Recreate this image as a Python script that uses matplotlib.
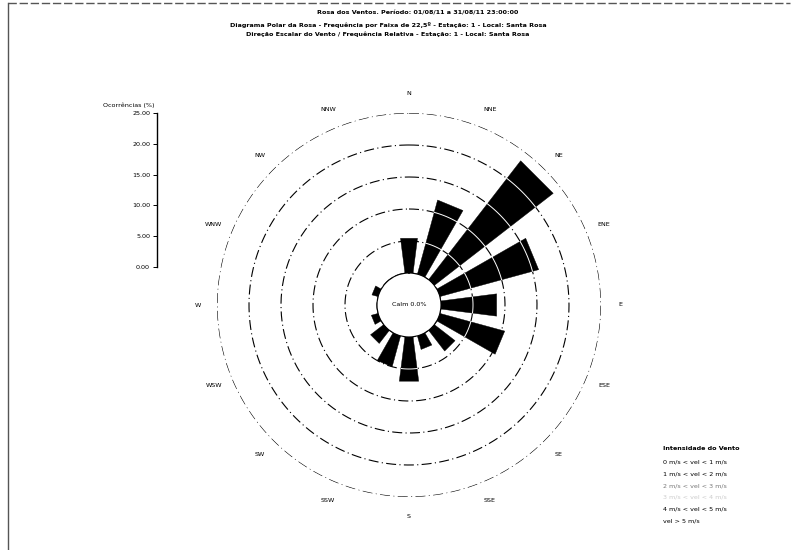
import numpy as np
import matplotlib
matplotlib.use("Agg")
import matplotlib.pyplot as plt
from matplotlib.lines import Line2D

# Frequency (%) of wind by direction sector
directions = ['N', 'NNE', 'NE', 'ENE', 'E', 'ESE', 'SE', 'SSE',
              'S', 'SSW', 'SW', 'WSW', 'W', 'WNW', 'NW', 'NNW']
freq = [5.5, 12.0, 23.5, 16.0, 8.8, 10.5, 4.1, 2.2,
        7.0, 5.0, 2.6, 1.1, 0.0, 1.0, 0.0, 0.0]
rings = [5, 10, 15, 20, 25]
scale_ticks = [0, 5, 10, 15, 20, 25]
calm_pct = 0.0

title_lines = [
    "Rosa dos Ventos. Período: 01/08/11 a 31/08/11 23:00:00",
    "Diagrama Polar da Rosa - Frequência por Faixa de 22,5º - Estação: 1 - Local: Santa Rosa",
    "Direção Escalar do Vento / Frequência Relativa - Estação: 1 - Local: Santa Rosa",
]
legend_title = "Intensidade do Vento"
legend_labels = ["0 m/s < vel < 1 m/s", "1 m/s < vel < 2 m/s", "2 m/s < vel < 3 m/s",
                 "3 m/s < vel < 4 m/s", "4 m/s < vel < 5 m/s", "vel > 5 m/s"]
legend_colors = ["black", "black", "#777777", "#cccccc", "black", "black"]

W, H = 797, 550
fig = plt.figure(figsize=(W / 100, H / 100), dpi=100)
fs = 4.6

# polar rose: hole of 5 units, outer ring at 25 %
cx, cy, R = 409, 305, 192
ax = fig.add_axes([(cx - R) / W, (H - cy - R) / H, 2 * R / W, 2 * R / H], projection='polar')
ax.set_theta_zero_location('N')
ax.set_theta_direction(-1)
ax.set_rlim(0, 25)
ax.set_rorigin(-5)
ax.grid(False)
ax.set_xticks([])
ax.set_yticks([])
for s in ax.spines.values():
    s.set_visible(False)
ax.patch.set_alpha(0)

theta = np.deg2rad(np.arange(16) * 22.5)
width = np.deg2rad(14.5)
# bars with straight outer ends
for th, v in zip(theta, freq):
    if v <= 0:
        continue
    a0, a1 = th - width / 2, th + width / 2
    ax.fill([a0, a0, a1, a1], [0, v, v, 0], color='black', lw=0.3, zorder=2)

t = np.linspace(0, 2 * np.pi, 400)
for r in rings:
    ax.plot(t, np.full_like(t, r), color='black', lw=0.8, ls=(0, (9, 3, 1, 3)), zorder=1)
ax.plot(t, np.zeros_like(t), color='black', lw=0.8, ls=(0, (12, 2)), zorder=3)

# grid rings show through the bars as light lines
for th, v in zip(theta, freq):
    arc = np.linspace(th - width / 2, th + width / 2, 20)
    for r in rings:
        if r < v - 0.5:
            ax.plot(arc, np.full_like(arc, r), color='white', lw=0.7, zorder=3)

for th, name in zip(theta, directions):
    ax.text(th, 28.0, name, fontsize=fs, ha='center', va='center', clip_on=False)
ax.text(0, -5, f"Calm {calm_pct:.1f}%", fontsize=fs, ha='center', va='center')

# radial scale bar
sx, sy0, sy1 = 157, 113, 267
sax = fig.add_axes([sx / W, (H - sy1) / H, 0.0005, (sy1 - sy0) / H])
sax.set_ylim(0, 25)
sax.set_yticks(scale_ticks)
sax.set_yticklabels([f"{v:.2f}" for v in scale_ticks], fontsize=fs)
sax.tick_params(axis='y', length=3, width=0.7, pad=2)
sax.set_xticks([])
for k in ['top', 'right', 'bottom']:
    sax.spines[k].set_visible(False)
sax.spines['left'].set_linewidth(1.0)
fig.text(103 / W, 1 - 105 / H, "Ocorrências (%)", fontsize=fs, ha='left', va='center')

# titles
for i, (line, y) in enumerate(zip(title_lines, [13, 25, 34])):
    xc = 418 if i == 0 else 388
    fig.text(xc / W, 1 - y / H, line, fontsize=fs, ha='center', va='center', weight='bold')

# legend
fig.text(663 / W, 1 - 448 / H, legend_title, fontsize=fs, ha='left', va='center', weight='bold')
for i, (lab, col) in enumerate(zip(legend_labels, legend_colors)):
    fig.text(663 / W, 1 - (462 + 11.8 * i) / H, lab, fontsize=fs, ha='left', va='center', color=col)

# page frame
fig.add_artist(Line2D([8 / W, 8 / W], [0, 1 - 3 / H], color='#555555', lw=1.0))
fig.add_artist(Line2D([8 / W, 790 / W], [1 - 3 / H, 1 - 3 / H], color='#555555', lw=1.0, ls=(0, (6, 2))))

fig.savefig("out.png", dpi=100)
